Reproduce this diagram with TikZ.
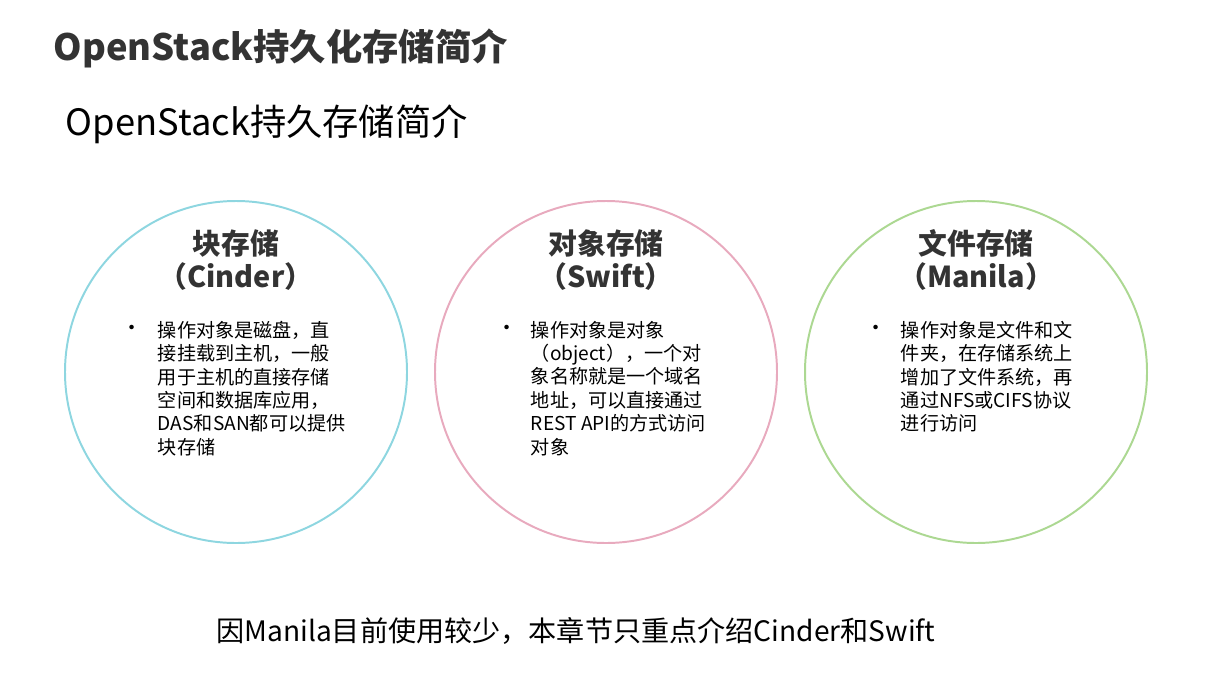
\documentclass[tikz,border=0pt]{standalone}
\usepackage{fontspec}
\setmainfont{Noto Sans CJK SC}
\definecolor{ringcyan}{RGB}{142,214,224}
\definecolor{ringpink}{RGB}{232,170,190}
\definecolor{ringgreen}{RGB}{172,216,146}
\definecolor{titlegray}{RGB}{51,51,51}

\begin{document}
\begin{tikzpicture}[x=0.025cm,y=-0.025cm,line width=1.4pt,
  head/.style={font=\fontsize{20.5}{24}\selectfont\bfseries,text=titlegray,inner sep=0pt},
  item/.style={anchor=north west,align=left,inner sep=0pt,font=\fontsize{13.6}{16.65}\selectfont},
  dot/.style={inner sep=0pt,font=\fontsize{15}{16.65}\selectfont}]
  \useasboundingbox (0,0) rectangle (1221,672);
  \coordinate (B) at (236,372);
  \coordinate (S) at (606,372);
  \coordinate (F) at (976,372);
  \node[anchor=base west,inner sep=0pt,text=titlegray,font=\fontsize{25.8}{30}\selectfont\bfseries] (title) at (53,60) {OpenStack持久化存储简介};
  \node[anchor=base west,inner sep=0pt,font=\fontsize{25.8}{30}\selectfont] (subtitle) at (65,135) {OpenStack持久存储简介};
  % three rings
  \draw[ringcyan] (B) circle[radius=171];
  \draw[ringpink] (S) circle[radius=171];
  \draw[ringgreen] (F) circle[radius=171];
  % block storage
  \node[head,anchor=base] (bname) at (236,254) {块存储};
  \node[head,anchor=base] (bsub) at (236,287) {（Cinder）};
  \node[dot] (bdot) at (132,330) {•};
  \node[item] (btext) at (157,320) {操作对象是磁盘，直\\接挂载到主机，一般\\用于主机的直接存储\\空间和数据库应用，\\DAS和SAN都可以提供\\块存储};
  % object storage
  \node[head,anchor=base] (sname) at (606,254) {对象存储};
  \node[head,anchor=base] (ssub) at (606,287) {（Swift）};
  \node[dot] (sdot) at (507,330) {•};
  \node[item] (stext) at (530,320) {操作对象是对象\\（object），一个对\\象名称就是一个域名\\地址，可以直接通过\\REST API的方式访问\\对象};
  % file storage
  \node[head,anchor=base] (fname) at (976,254) {文件存储};
  \node[head,anchor=base] (fsub) at (976,287) {（Manila）};
  \node[dot] (fdot) at (876,330) {•};
  \node[item] (ftext) at (900,320) {操作对象是文件和文\\件夹，在存储系统上\\增加了文件系统，再\\通过NFS或CIFS协议\\进行访问};
  \node[anchor=base,inner sep=0pt,font=\fontsize{20}{24}\selectfont] (note) at (576,641) {因Manila目前使用较少，本章节只重点介绍Cinder和Swift};
\end{tikzpicture}
\end{document}
